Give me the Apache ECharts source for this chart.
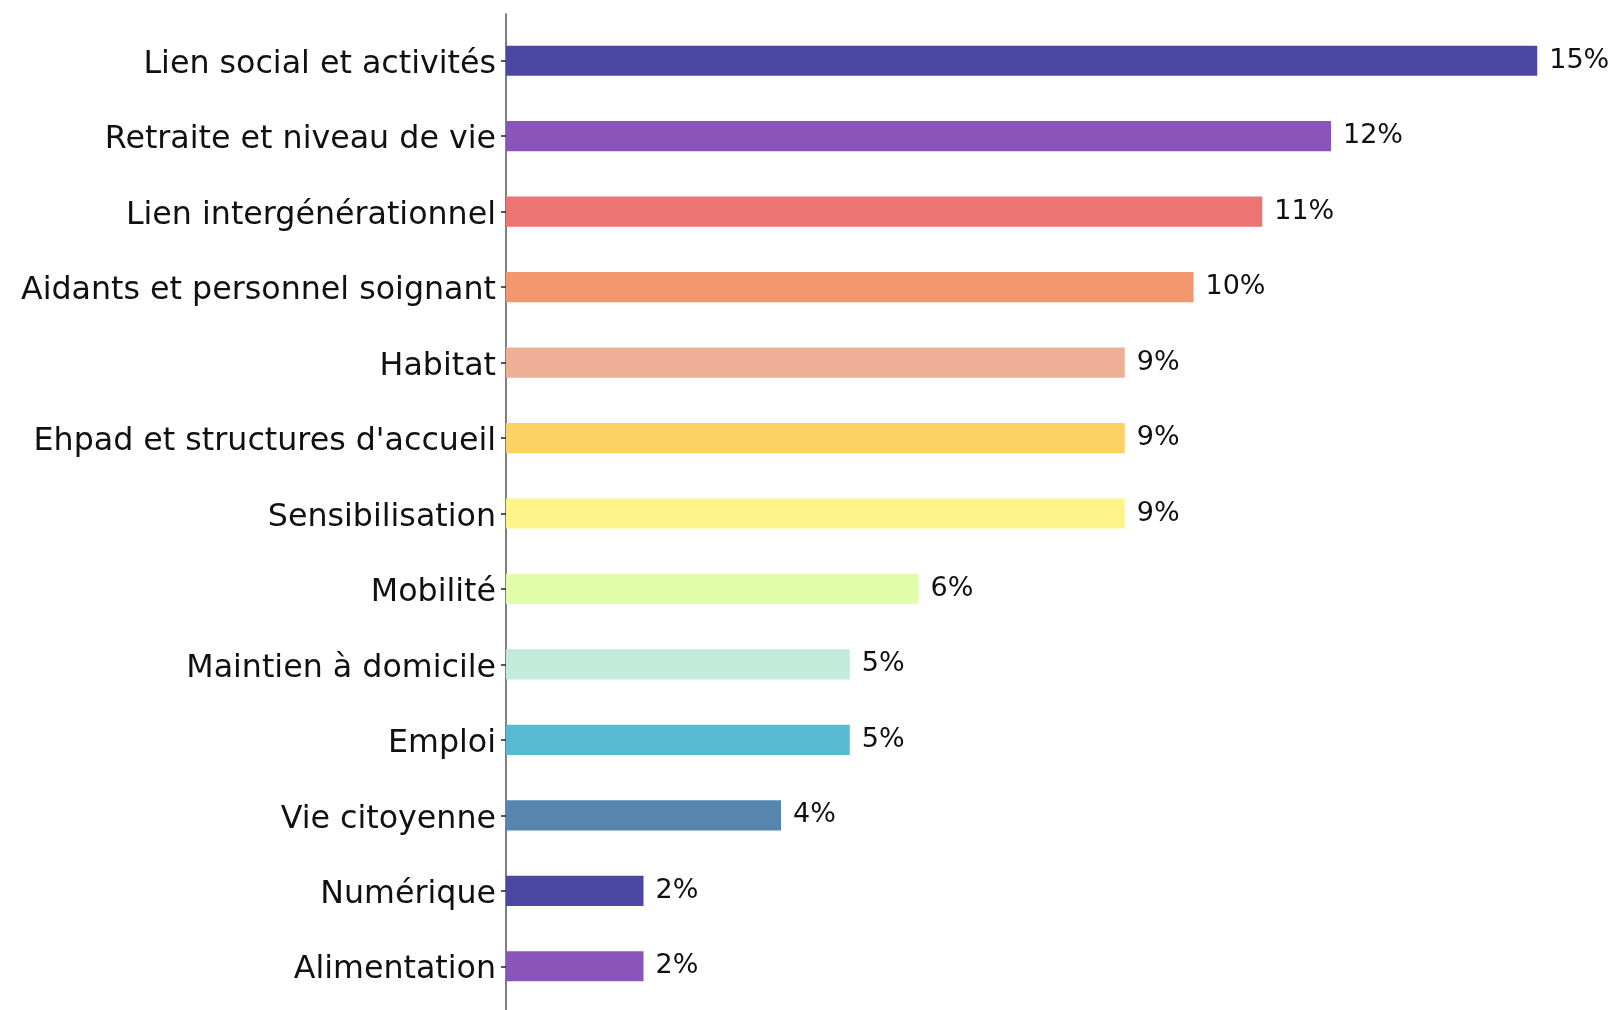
<!DOCTYPE html>
<html>
<head>
<meta charset="utf-8">
<script src="https://cdn.jsdelivr.net/npm/echarts@6/dist/echarts.min.js"></script>
<style>
  html, body { margin: 0; padding: 0; background: #fff; }
  #container { width: 1617px; height: 1010px; }
</style>
</head>
<body>
<div id="container"></div>
<script>
  // catégories, du haut vers le bas
  var categories = [
    'Lien social et activités',
    'Retraite et niveau de vie',
    'Lien intergénérationnel',
    'Aidants et personnel soignant',
    'Habitat',
    "Ehpad et structures d'accueil",
    'Sensibilisation',
    'Mobilité',
    'Maintien à domicile',
    'Emploi',
    'Vie citoyenne',
    'Numérique',
    'Alimentation'
  ]
  // parts en %
  var values = [15, 12, 11, 10, 9, 9, 9, 6, 5, 5, 4, 2, 2]
  var colors = [
    '#4B47A3', '#8A55BA', '#EC7574', '#F3976F', '#EDB096', '#FCD265',
    '#FEF48A', '#E2FDA9', '#C2EBDC', '#5ABAD3', '#5686AD', '#4B47A3', '#8A55BA'
  ]

  let dom = document.getElementById('container')
  let myChart = echarts.init(dom)
  let barData = values.map(function (v, i) {
    return { value: v, itemStyle: { color: colors[i] } }
  })
  myChart.setOption({
    animation: false,
    grid: [
      { left: 506, right: 11, top: 23, bottom: 6 },
      // grille vide : seulement pour la ligne d'axe qui va jusqu'en bas
      { left: 506, right: 11, top: 14, bottom: 0 }
    ],
    xAxis: [
      { type: 'value', gridIndex: 0, min: 0, max: 16, show: false },
      { type: 'value', gridIndex: 1, min: 0, max: 16, show: false }
    ],
    yAxis: [{
      type: 'category',
      gridIndex: 0,
      inverse: true,
      data: categories,
      axisLine: { show: false },
      axisTick: {
        show: true,
        length: 5,
        alignWithLabel: true,
        lineStyle: { color: '#222', width: 1.5 }
      },
      axisLabel: {
        margin: 10,
        verticalAlign: 'top',
        lineHeight: 8,
        fontFamily: 'DejaVu Sans',
        fontSize: 31.7,
        color: '#111'
      },
      splitLine: { show: false }
    }, {
      type: 'value',
      gridIndex: 1,
      min: 0,
      max: 1,
      axisLine: {
        show: true,
        lineStyle: { color: '#555', width: 1.5 }
      },
      axisTick: { show: false },
      axisLabel: { show: false },
      splitLine: { show: false }
    }],
    series: [{
      type: 'bar',
      xAxisIndex: 0,
      yAxisIndex: 0,
      barWidth: '40%',
      data: barData,
      label: {
        show: true,
        position: 'right',
        distance: 12,
        fontFamily: 'DejaVu Sans',
        fontSize: 27,
        color: '#111',
        formatter: function (p) {
          return p.value + '%'
        }
      }
    }]
  })
</script>
</body>
</html>
